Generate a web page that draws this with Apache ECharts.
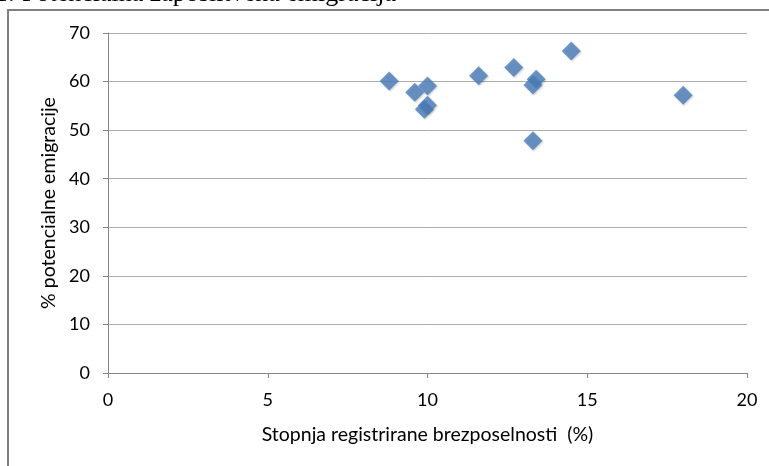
<!DOCTYPE html>
<html><head><meta charset="utf-8">
<script src="https://cdn.jsdelivr.net/npm/echarts@6/dist/echarts.min.js"></script>
<style>html,body{margin:0;padding:0;background:#fff}#c{width:769px;height:466px}</style>
</head><body><div id="c"></div>
<script>
const unemployment = [8.8, 9.6, 10.0, 9.9, 10.0, 11.6, 12.7, 13.4, 13.3, 13.3, 14.5, 18.0];
const emigration   = [60.1, 57.8, 59.1, 54.3, 55.1, 61.2, 62.9, 60.5, 59.3, 47.8, 66.3, 57.2];
const xTicks = [0, 5, 10, 15, 20];
const yTicks = [0, 10, 20, 30, 40, 50, 60, 70];
const captionPrefix = 'Graf 1:';
const captionText = 'Potencialna zaposlitvena emigracija';
const xName = 'Stopnja registrirane brezposelnosti  (%)';
const yName = '% potencialne emigracije';

const points = unemployment.map((x, i) => [x, emigration[i]]);
const font = 'Lato, "Open Sans", sans-serif';
const chart = echarts.init(document.getElementById('c'), null, {renderer: 'canvas'});
chart.setOption({
  animation: false,
  backgroundColor: '#fff',
  grid: {left: 108, right: 22, top: 33, bottom: 93},
  graphic: [
    {type: 'line', shape: {x1: 8, y1: 10, x2: 8, y2: 466}, style: {stroke: '#808080', lineWidth: 2}},
    {type: 'line', shape: {x1: 7, y1: 10, x2: 769, y2: 10}, style: {stroke: '#808080', lineWidth: 2}},
    {type: 'text', x: 15, y: 7, style: {text: captionPrefix, font: '26px "Liberation Serif", serif', fill: '#000', textAlign: 'right', textVerticalAlign: 'bottom'}},
    {type: 'text', x: 22, y: 7, style: {text: captionText, font: '26px "Liberation Serif", serif', fill: '#000', textAlign: 'left', textVerticalAlign: 'bottom'}}
  ],
  xAxis: {
    type: 'value', min: xTicks[0], max: xTicks[xTicks.length - 1], interval: 5,
    name: xName, nameLocation: 'middle', nameGap: 52,
    nameTextStyle: {fontFamily: font, fontSize: 19.5, color: '#000'},
    axisLine: {lineStyle: {color: '#868686', width: 1}},
    axisTick: {show: true, inside: false, length: 5, lineStyle: {color: '#868686'}},
    axisLabel: {fontFamily: font, fontSize: 18, color: '#000', margin: 18},
    splitLine: {show: false}
  },
  yAxis: {
    type: 'value', min: yTicks[0], max: yTicks[yTicks.length - 1], interval: 10,
    name: yName, nameLocation: 'middle', nameGap: 48,
    nameTextStyle: {fontFamily: font, fontSize: 19.5, color: '#000'},
    axisLine: {show: true, lineStyle: {color: '#868686', width: 1}},
    axisTick: {show: true, inside: false, length: 5, lineStyle: {color: '#868686'}},
    axisLabel: {fontFamily: font, fontSize: 18, color: '#000', margin: 18},
    splitLine: {show: true, lineStyle: {color: '#ADADAD', width: 1}}
  },
  series: [{
    type: 'scatter', data: points, symbol: 'diamond', symbolSize: 19,
    itemStyle: {color: '#4A7EBB', shadowColor: 'rgba(0,0,0,0.25)', shadowBlur: 2, shadowOffsetX: 1, shadowOffsetY: 1}
  }]
});
</script></body></html>
